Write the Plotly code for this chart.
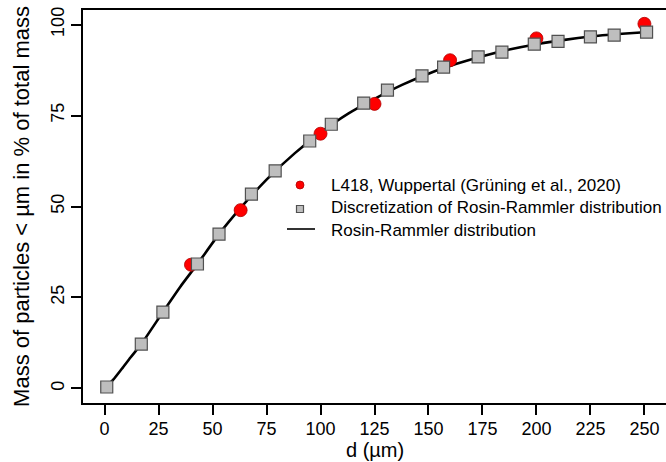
import plotly.graph_objects as go

# Measured cumulative mass fractions (L418, Wuppertal)
meas_d = [40, 63, 100, 125, 160, 200, 250]
meas_pct = [34.0, 49.0, 70.0, 78.2, 90.2, 96.2, 100.2]

# Discretized Rosin-Rammler size classes
disc_d = [1, 17, 27, 43, 53, 68, 79, 95, 105, 120, 131, 147, 157, 173, 184,
          199, 210, 225, 236, 251]
disc_pct = [0.4, 12.2, 21.0, 34.2, 42.4, 53.4, 59.8, 68.0, 72.6, 78.4, 82.0,
            85.9, 88.3, 91.1, 92.4, 94.6, 95.4, 96.6, 97.1, 97.9]

# Continuous Rosin-Rammler curve
curve_d = [0, 4, 8, 12, 17, 27, 35, 43, 53, 63, 75, 88, 100, 113, 125, 138,
           150, 163, 175, 188, 200, 213, 225, 238, 250]
curve_pct = [0.0, 2.4, 5.4, 8.5, 12.2, 21.0, 27.9, 34.2, 42.4, 49.6, 57.4,
             64.6, 70.3, 75.6, 79.6, 83.5, 86.5, 89.2, 91.3, 93.2, 94.6,
             95.8, 96.7, 97.4, 97.9]

x_ticks = [0, 25, 50, 75, 100, 125, 150, 175, 200, 225, 250]
y_ticks = [0, 25, 50, 75, 100]

legend_labels = ["L418, Wuppertal (Grüning et al., 2020)",
                 "Discretization of Rosin-Rammler distribution",
                 "Rosin-Rammler distribution"]

FONT = "Liberation Sans, Arial, sans-serif"
W, H = 666, 462
ML, MR, MT, MB = 83, 0, 10, 59
PW, PH = W - ML - MR, H - MT - MB


def px_x(px):
    return (px - ML) / PW


def px_y(py):
    return (H - MB - py) / PH


fig = go.Figure()

fig.add_trace(go.Scatter(
    x=curve_d, y=curve_pct, mode="lines",
    line=dict(color="black", width=2.6, shape="spline", smoothing=0.6),
    showlegend=False, hoverinfo="skip"))
fig.add_trace(go.Scatter(
    x=meas_d, y=meas_pct, mode="markers", name=legend_labels[0],
    marker=dict(symbol="circle", size=13, color="#ff0000",
                line=dict(color="#b00000", width=0.8)),
    showlegend=False))
fig.add_trace(go.Scatter(
    x=disc_d, y=disc_pct, mode="markers", name=legend_labels[1],
    marker=dict(symbol="square", size=12, color="#bebebe",
                line=dict(color="#505050", width=1.2)),
    showlegend=False))

# Hand-placed legend: key symbols and labels
shapes = [
    dict(type="circle", xref="paper", yref="paper",
         x0=px_x(296), x1=px_x(304), y0=px_y(189), y1=px_y(181),
         fillcolor="#ff0000", line=dict(color="#b00000", width=0.8)),
    dict(type="rect", xref="paper", yref="paper",
         x0=px_x(296.5), x1=px_x(303.5), y0=px_y(212.5), y1=px_y(205.5),
         fillcolor="#bebebe", line=dict(color="#505050", width=1.2)),
    dict(type="line", xref="paper", yref="paper",
         x0=px_x(287), x1=px_x(315), y0=px_y(229), y1=px_y(229),
         line=dict(color="black", width=1.6)),
]
annotations = [
    dict(text=lbl, xref="paper", yref="paper", x=px_x(329), y=px_y(py),
         xanchor="left", yanchor="middle", showarrow=False,
         font=dict(size=17, family=FONT, color="black"))
    for lbl, py in zip(legend_labels, [185, 207.5, 230])
]
annotations.append(dict(
    text="d (µm)", xref="paper", yref="paper", x=0.5, y=px_y(462),
    xanchor="center", yanchor="bottom", showarrow=False, borderpad=0,
    font=dict(size=20, family=FONT, color="black")))

fig.update_layout(
    width=W, height=H,
    margin=dict(l=ML, r=MR, t=MT, b=MB),
    paper_bgcolor="white", plot_bgcolor="white",
    font=dict(family=FONT, color="black", size=18),
    showlegend=False,
    shapes=shapes, annotations=annotations,
    xaxis=dict(
        range=[-10, 260], tickmode="array", tickvals=x_ticks,
        ticks="outside", ticklen=10, tickwidth=2, tickcolor="black",
        ticklabelstandoff=-2,
        showline=True, linewidth=2, linecolor="black", mirror=True,
        showgrid=False, zeroline=False, tickfont=dict(size=18)),
    yaxis=dict(
        range=[-4, 104], tickmode="array", tickvals=y_ticks, tickangle=-90,
        ticks="outside", ticklen=10, tickwidth=2, tickcolor="black",
        showline=True, linewidth=2, linecolor="black", mirror=False,
        showgrid=False, zeroline=False, tickfont=dict(size=18),
        title=dict(text="Mass of particles < µm in % of total mass",
                   font=dict(size=22), standoff=12)),
)

fig.write_html("out.html")
